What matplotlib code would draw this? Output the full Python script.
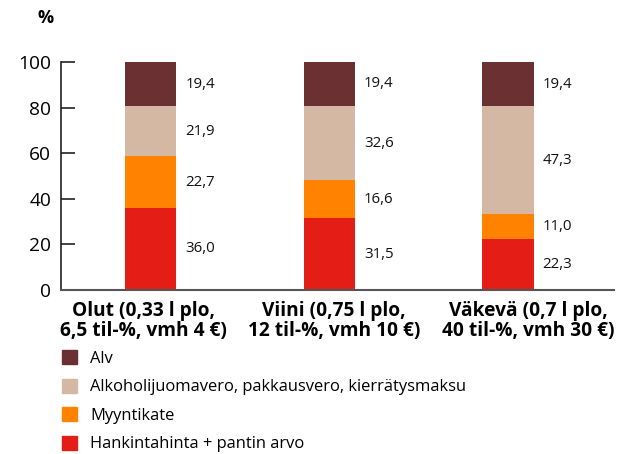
import matplotlib.pyplot as plt
from matplotlib.patches import Patch

plt.rcParams['font.family'] = ['Open Sans', 'DejaVu Sans']

# data
categories = ['Olut (0,33 l plo,\n6,5 til-%, vmh 4 €)',
              'Viini (0,75 l plo,\n12 til-%, vmh 10 €)',
              'Väkevä (0,7 l plo,\n40 til-%, vmh 30 €)']
hankinta = [36.0, 31.5, 22.3]
myyntikate = [22.7, 16.6, 11.0]
alkoholivero = [21.9, 32.6, 47.3]
alv = [19.4, 19.4, 19.4]

series = [
    ('Hankintahinta + pantin arvo', hankinta, '#e41e17'),
    ('Myyntikate', myyntikate, '#ff8300'),
    ('Alkoholijuomavero, pakkausvero, kierrätysmaksu', alkoholivero, '#d5b8a4'),
    ('Alv', alv, '#6b3132'),
]

fig = plt.figure(figsize=(6.19, 4.54), dpi=100)
ax = fig.add_axes([0.0985, 0.3612, 0.8935, 0.5022])

x = list(range(len(categories)))
width = 0.286
bottom = [0.0] * len(categories)
for name, vals, color in series:
    ax.bar(x, vals, width, bottom=bottom, color=color, label=name)
    for i, v in enumerate(vals):
        ax.text(i + width / 2 + 0.05, bottom[i] + v / 2, f'{v:.1f}'.replace('.', ','),
                va='center', ha='left', fontsize=10.8, color='#111111')
    bottom = [b + v for b, v in zip(bottom, vals)]

ax.set_xlim(-0.504, 2.594)
ax.set_ylim(0, 100)
ax.set_yticks([0, 20, 40, 60, 80, 100])
ax.tick_params(axis='y', direction='in', length=10, width=1.2, labelsize=13.8,
               color='#222222', pad=7)
# category labels are not exactly centred under the bars in the original
label_shift = [-0.043, 0.024, 0.115]
ax.set_xticks([i + s for i, s in zip(x, label_shift)])
ax.set_xticklabels(categories, fontsize=13.8, fontweight='bold', linespacing=1.0)
ax.tick_params(axis='x', length=0, pad=8)
ax.spines['top'].set_visible(False)
ax.spines['right'].set_visible(False)
ax.spines['left'].set_color('#222222')
ax.spines['left'].set_linewidth(1.2)
ax.spines['bottom'].set_color('#555555')
ax.spines['bottom'].set_linewidth(1.5)

fig.text(0.073, 0.96, '%', fontsize=13, fontweight='bold', ha='center', va='center')

handles = [Patch(color=c, label=n) for n, v, c in reversed(series)]
fig.legend(handles=handles, loc='upper left', bbox_to_anchor=(0.1, 0.229),
           frameon=False, fontsize=11.9, handlelength=0.92, handleheight=0.92,
           handletextpad=0.8, labelspacing=0.72, borderaxespad=0, borderpad=0)

fig.savefig('out.png', dpi=100)
